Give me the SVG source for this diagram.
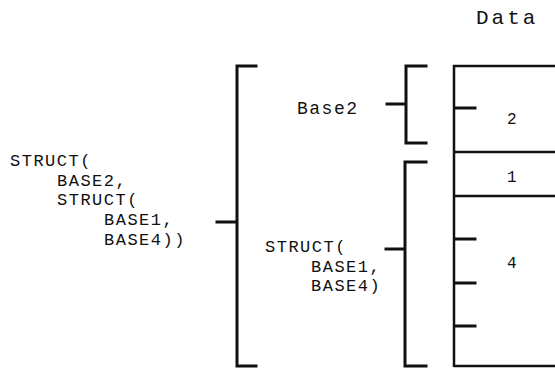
<svg xmlns="http://www.w3.org/2000/svg" width="555" height="368" viewBox="0 0 555 368">
<style>
text{font-family:"Liberation Mono","DejaVu Sans Mono",monospace;fill:#111}
.code{font-size:17px;letter-spacing:1.5px}
.lbl{font-size:18px;letter-spacing:1.5px}
.ttl{font-size:21px;letter-spacing:3px}
.num{font-size:16px}
.br{fill:none;stroke:#111;stroke-width:3;stroke-linecap:square}
.bx{fill:none;stroke:#111;stroke-width:2.5}
</style>
<rect width="555" height="368" fill="#fff"/>
<g id="root-label">
<text class="code" x="10" y="166">STRUCT(</text>
<text class="code" x="57" y="185.5">BASE2,</text>
<text class="code" x="57" y="205">STRUCT(</text>
<text class="code" x="104" y="225">BASE1,</text>
<text class="code" x="104" y="245">BASE4))</text>
</g>
<g id="base2-label">
<text class="lbl" x="297" y="114">Base2</text>
</g>
<g id="inner-label">
<text class="code" x="265" y="252">STRUCT(</text>
<text class="code" x="311" y="271.5">BASE1,</text>
<text class="code" x="311" y="291">BASE4)</text>
</g>
<g id="data">
<text class="ttl" x="476" y="24">Data</text>
<path class="bx" d="M560,66 H454 V367"/>
<path class="bx" d="M454,152 H560 M454,196 H560 M454,366 H560"/>
<text class="num" x="507" y="124">2</text>
<text class="num" x="507" y="182">1</text>
<text class="num" x="507" y="268">4</text>
</g>
<g id="connectors">
<path class="br" d="M256,66 H237 V366 H256 M217,222 H237"/>
<path class="br" d="M426,66 H406 V143 H426 M387,104 H406"/>
<path class="br" d="M426,162 H405 V366 H426 M386,249 H405"/>
<path class="br" d="M455,108 H475 M455,239 H475 M455,283 H475 M455,326 H475"/>
</g>
</svg>
